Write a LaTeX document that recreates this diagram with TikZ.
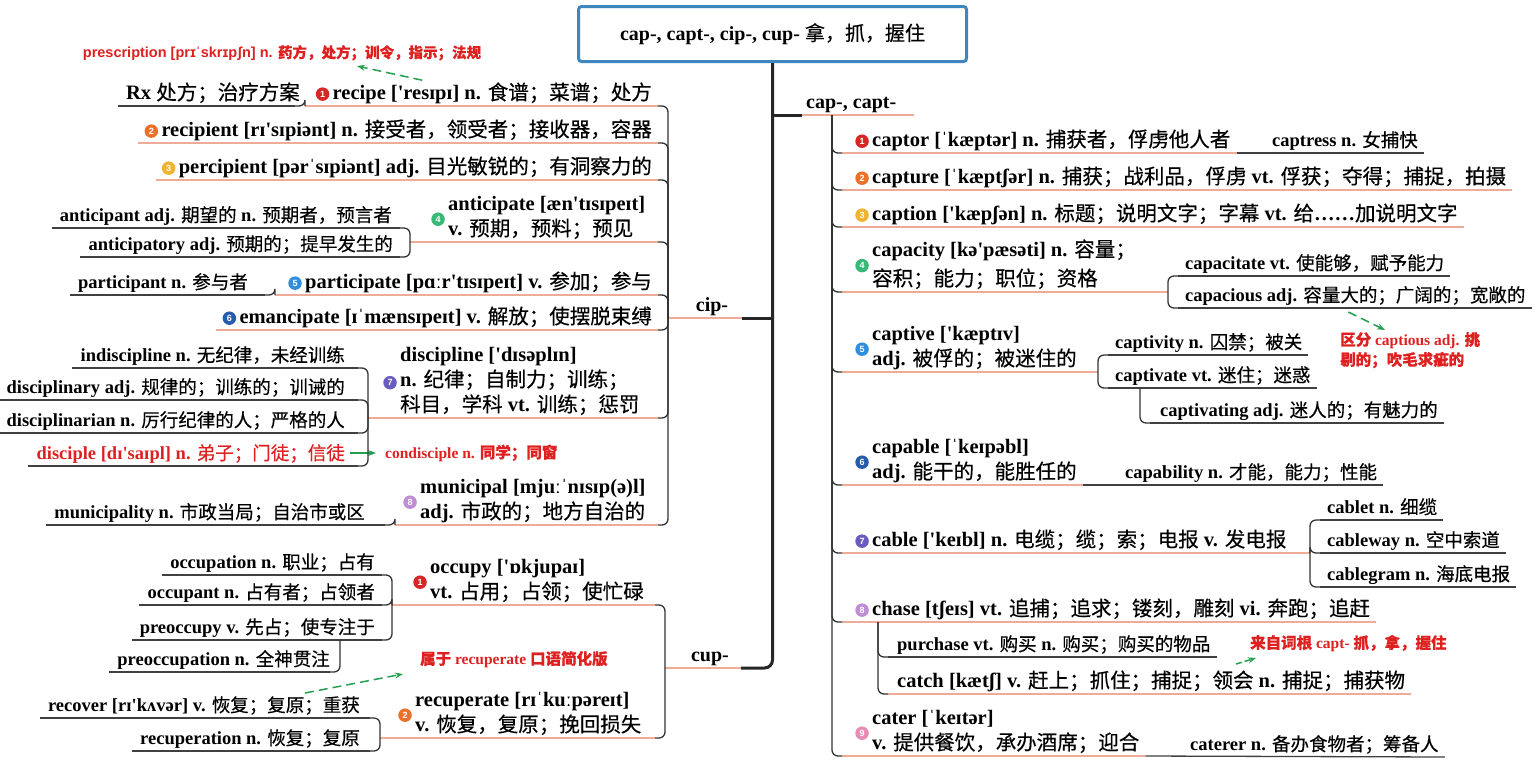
\documentclass[tikz,border=0pt]{standalone}
\usepackage{fontspec}
\setmainfont{Liberation Serif}
\setsansfont{Liberation Sans}
\newfontfamily\lat{Liberation Serif}
\newfontfamily\zh{Noto Sans CJK SC}[FakeBold=0.4]
\newcommand{\cn}[1]{{\zh\mdseries#1}}
\newcommand{\cnb}[1]{{\zh\bfseries#1}}
\usetikzlibrary{arrows.meta,positioning}
\definecolor{rootblue}{RGB}{62,134,190}
\definecolor{linepink}{RGB}{238,172,152}
\definecolor{notered}{RGB}{222,32,32}
\definecolor{hintgreen}{RGB}{36,160,80}
\definecolor{col1}{RGB}{214,38,38}
\definecolor{col2}{RGB}{236,112,42}
\definecolor{col3}{RGB}{240,178,48}
\definecolor{col4}{RGB}{58,184,120}
\definecolor{col5}{RGB}{48,142,222}
\definecolor{col6}{RGB}{38,92,172}
\definecolor{col7}{RGB}{104,92,190}
\definecolor{col8}{RGB}{192,140,212}
\definecolor{col9}{RGB}{232,140,180}
\tikzset{
  >={Stealth[length=8pt,width=6pt]},
  root/.style={draw=rootblue,line width=3pt,rounded corners=3pt,fill=white,
    minimum width=388pt,minimum height=55pt,font=\lat\bfseries\fontsize{20}{24}\selectfont},
  topic/.style={inner sep=0pt,align=left,font=\lat\bfseries\fontsize{20.5}{25}\selectfont,
    execute at end node={\rule[-6pt]{0pt}{6pt}}},
  leaf/.style={topic,font=\lat\bfseries\fontsize{18.5}{22}\selectfont},
  branch/.style={topic,font=\lat\bfseries\fontsize{20}{24}\selectfont},
  note/.style={inner sep=0pt,align=left,text=notered,font=\lat\bfseries\fontsize{15.5}{20}\selectfont},
  num/.style={circle,fill=#1,text=white,inner sep=0pt,minimum size=13.5pt,
    font=\sffamily\bfseries\fontsize{9}{9}\selectfont},
  trunk/.style={draw=black!85,line width=3pt,rounded corners=8pt},
  bar/.style={draw=black!80,line width=1.3pt,rounded corners=6pt},
  hi/.style={draw=linepink,line width=1.3pt},
  lo/.style={draw=black!75,line width=1.3pt},
  hint/.style={->,draw=hintgreen,line width=1.5pt,dash pattern=on 9pt off 5pt},
}
\begin{document}
\begin{tikzpicture}[x=1pt,y=-1pt]
  \useasboundingbox (0,0) rectangle (1536,764);

  % root and the three stems
  \node[root] (root) at (772.5,34) {cap-, capt-, cip-, cup- \cn{拿，抓，握住}};
  \node[branch,anchor=south west] (cap) at (806,115) {cap-, capt-};
  \node[branch,anchor=south] (cip) at (712,318) {cip-};
  \node[branch,anchor=south] (cup) at (710,668) {cup-};
  \coordinate (capj) at (832,115);
  \coordinate (cipj) at (668,318);
  \coordinate (cupj) at (665,668);
  \draw[trunk] (root.south) |- ([xshift=12pt]cup.south east);
  \draw[trunk] (root.south |- cip.south) -- ([xshift=14pt]cip.south east);
  \draw[trunk] (root.south |- cap.south) -- ([xshift=-4pt]cap.south west);
  \draw[hi] ([xshift=-4pt]cap.south west) -- ([xshift=18pt]cap.south east);
  \draw[hi] (cipj) -- ([xshift=14pt]cip.south east);
  \draw[hi] (cupj) -- ([xshift=12pt]cup.south east);

  % cap-, capt-
  \node[topic,anchor=south west] (captor) at (872,153) {captor [ˈkæptər] n. \cn{捕获者，俘虏他人者}};
  \node[topic,anchor=south west] (capture) at (872,190) {capture [ˈkæptʃər] n. \cn{捕获；战利品，俘虏} vt. \cn{俘获；夺得；捕捉，拍摄}};
  \node[topic,anchor=south west] (caption) at (872,227) {caption ['kæpʃən] n. \cn{标题；说明文字；字幕} vt. \cn{给}……\cn{加说明文字}};
  \node[topic,anchor=south west] (capacity) at (872,292) {capacity [kə'pæsəti] n. \cn{容量；}\\[4pt]\cn{容积；能力；职位；资格}};
  \node[topic,anchor=south west] (captive) at (872,372) {captive ['kæptɪv]\\adj. \cn{被俘的；被迷住的}};
  \node[topic,anchor=south west] (capable) at (872,485) {capable [ˈkeɪpəbl]\\adj. \cn{能干的，能胜任的}};
  \node[topic,anchor=south west] (cable) at (872,553) {cable ['keɪbl] n. \cn{电缆；缆；索；电报} v. \cn{发电报}};
  \node[topic,anchor=south west] (chase) at (872,622) {chase [tʃeɪs] vt. \cn{追捕；追求；镂刻，雕刻} vi. \cn{奔跑；追赶}};
  \node[topic,anchor=south west] (cater) at (872,756) {cater [ˈkeɪtər]\\v. \cn{提供餐饮，承办酒席；迎合}};

  \node[leaf,anchor=south west] (captress) at (1272,153) {captress n. \cn{女捕快}};
  \node[leaf,anchor=south west] (capacitate) at (1185,276) {capacitate vt. \cn{使能够，赋予能力}};
  \node[leaf,anchor=south west] (capacious) at (1185,308) {capacious adj. \cn{容量大的；广阔的；宽敞的}};
  \node[leaf,anchor=south west] (captivity) at (1115,355) {captivity n. \cn{囚禁；被关}};
  \node[leaf,anchor=south west] (captivate) at (1115,388) {captivate vt. \cn{迷住；迷惑}};
  \node[leaf,anchor=south west] (captivating) at (1160,423) {captivating adj. \cn{迷人的；有魅力的}};
  \node[leaf,anchor=south west] (capability) at (1125,485) {capability n. \cn{才能，能力；性能}};
  \node[leaf,anchor=south west] (cablet) at (1327,520) {cablet n. \cn{细缆}};
  \node[leaf,anchor=south west] (cableway) at (1327,553) {cableway n. \cn{空中索道}};
  \node[leaf,anchor=south west] (cablegram) at (1327,587) {cablegram n. \cn{海底电报}};
  \node[leaf,anchor=south west] (purchase) at (897,657) {purchase vt. \cn{购买} n. \cn{购买；购买的物品}};
  \node[topic,anchor=south west] (catch) at (897,694) {catch [kætʃ] v. \cn{赶上；抓住；捕捉；领会} n. \cn{捕捉；捕获物}};
  \node[leaf,anchor=south west] (caterer) at (1190,757) {caterer n. \cn{备办食物者；筹备人}};

  \coordinate (capaj) at (1168,292);
  \coordinate (tivej) at (1098,372);
  \coordinate (tivatej) at (1140,388);
  \coordinate (cablej) at (1310,553);
  \coordinate (chasej) at (878,622);

  \foreach \n [count=\i] in {captor,capture,caption,capacity,captive,capable,cable,chase,cater}{
    \node[num=col\i] (num-\n) [left=3pt of \n] {\i};
    \draw[hi] ([xshift=10pt]capj |- \n.south) -- ([xshift=6pt]\n.south east);
    \draw[bar] (capj) -- (capj |- \n.south) -- ([xshift=10pt]capj |- \n.south);
  }
  \draw[hi] (capacity.south east) -- (capaj);
  \draw[hi] (captive.south east) -- (tivej);
  \draw[hi] (cable.south east) -- (cablej);
  \draw[lo] ([xshift=6pt]captor.south east) -- ([xshift=6pt]captress.south east);
  \draw[lo] ([xshift=6pt]capable.south east) -- ([xshift=6pt]capability.south east);
  \draw[lo] ([xshift=6pt]cater.south east) -- ([xshift=6pt]caterer.south east);
  \foreach \j/\n in {capaj/capacitate,capaj/capacious,tivej/captivity,tivej/captivate,
      tivatej/captivating,cablej/cablet,cablej/cableway,cablej/cablegram,chasej/purchase}{
    \draw[lo] ([xshift=10pt]\j |- \n.south) -- ([xshift=6pt]\n.south east);
    \draw[bar] (\j) -- (\j |- \n.south) -- ([xshift=10pt]\j |- \n.south);
  }
  \draw[hi] ([xshift=10pt]chasej |- catch.south) -- ([xshift=6pt]catch.south east);
  \draw[bar] (chasej) -- (chasej |- catch.south) -- ([xshift=10pt]chasej |- catch.south);

  \node[note,anchor=north west] (captious) at (1340,332) {\cnb{区分} captious adj. \cnb{挑}\\\cnb{剔的；吹毛求疵的}};
  \node[note,anchor=south west] (capt) at (1250,652) {\cnb{来自词根} capt- \cnb{抓，拿，握住}};
  \draw[hint] ([xshift=-7pt,yshift=-4pt]capacious.south) -- ([xshift=45pt,yshift=2pt]captious.north west);
  \draw[hint,dash pattern=on 6pt off 3pt] ([shift={(-14pt,-12pt)}]capt.south west) -- ([shift={(6pt,-6pt)}]capt.south west);

  % cip-
  \node[topic,anchor=south east] (recipe) at (652,106) {recipe ['resɪpɪ] n. \cn{食谱；菜谱；处方}};
  \node[topic,anchor=south east] (recipient) at (652,143) {recipient [rɪ'sɪpiənt] n. \cn{接受者，领受者；接收器，容器}};
  \node[topic,anchor=south east] (percipient) at (652,180) {percipient [pərˈsɪpiənt] adj. \cn{目光敏锐的；有洞察力的}};
  \node[topic,anchor=south west] (anticipate) at (448,242) {anticipate [æn'tɪsɪpeɪt]\\v. \cn{预期，预料；预见}};
  \node[topic,anchor=south east] (participate) at (652,295) {participate [pɑːr'tɪsɪpeɪt] v. \cn{参加；参与}};
  \node[topic,anchor=south east] (emancipate) at (652,330) {emancipate [ɪˈmænsɪpeɪt] v. \cn{解放；使摆脱束缚}};
  \node[topic,anchor=south west] (discipline) at (400,418) {discipline ['dɪsəplɪn]\\n. \cn{纪律；自制力；训练；}\\\cn{科目，学科} vt. \cn{训练；惩罚}};
  \node[topic,anchor=south west] (municipal) at (420,525) {municipal [mjuːˈnɪsɪp(ə)l]\\adj. \cn{市政的；地方自治的}};

  \node[topic,anchor=south east] (rx) at (300,106) {Rx \cn{处方；治疗方案}};
  \node[leaf,anchor=south east] (anticipant) at (392,228) {anticipant adj. \cn{期望的} n. \cn{预期者，预言者}};
  \node[leaf,anchor=south east] (anticipatory) at (393,257) {anticipatory adj. \cn{预期的；提早发生的}};
  \node[leaf,anchor=south east] (participant) at (248,295) {participant n. \cn{参与者}};
  \node[leaf,anchor=south east] (indiscipline) at (345,368) {indiscipline n. \cn{无纪律，未经训练}};
  \node[leaf,anchor=south east] (disciplinary) at (345,400) {disciplinary adj. \cn{规律的；训练的；训诫的}};
  \node[leaf,anchor=south east] (disciplinarian) at (345,433) {disciplinarian n. \cn{厉行纪律的人；严格的人}};
  \node[leaf,anchor=south east,text=notered] (disciple) at (345,466) {disciple [dɪ'saɪpl] n. \cn{弟子；门徒；信徒}};
  \node[leaf,anchor=south east] (municipality) at (365,525) {municipality n. \cn{市政当局；自治市或区}};

  \coordinate (rxj) at (305,106);
  \coordinate (antj) at (410,242);
  \coordinate (partj) at (275,295);
  \coordinate (discj) at (368,418);
  \coordinate (munij) at (395,525);

  \foreach \n [count=\i] in {recipe,recipient,percipient,anticipate,participate,emancipate,discipline,municipal}{
    \node[num=col\i] (num-\n) [left=3pt of \n] {\i};
    \coordinate (\n-s) at ([xshift=-6pt]num-\n.west |- \n.south);
    \draw[bar] (cipj) -- (cipj |- \n.south) -- ([xshift=-10pt]cipj |- \n.south);
  }
  \foreach \n/\s in {recipe/rxj,recipient/recipient-s,percipient/percipient-s,anticipate/antj,
      participate/partj,emancipate/emancipate-s,discipline/discj,municipal/munij}
    \draw[hi] (\s) -- ([xshift=-10pt]cipj |- \n.south);

  \node[note,font=\sffamily\bfseries\fontsize{14.5}{18}\selectfont] (prescription) at (282,53) {prescription [prɪˈskrɪpʃn] n. \cnb{药方，处方；训令，指示；法规}};
  \node[note,anchor=west] (condisciple) at (385,453) {condisciple n. \cnb{同学；同窗}};
  \draw[hint] ([xshift=-70pt,yshift=2pt]recipe.north) -- ([xshift=75pt,yshift=-5pt]prescription.south);
  \draw[hint,solid] ([xshift=5pt]disciple.east |- condisciple.west) -- ([xshift=-9pt]condisciple.west);

  % cup-
  \node[topic,anchor=south west] (occupy) at (430,605) {occupy ['ɒkjupaɪ]\\vt. \cn{占用；占领；使忙碌}};
  \node[topic,anchor=south west] (recuperate) at (415,738) {recuperate [rɪˈkuːpəreɪt]\\v. \cn{恢复，复原；挽回损失}};

  \node[leaf,anchor=south east] (occupation) at (375,575) {occupation n. \cn{职业；占有}};
  \node[leaf,anchor=south east] (occupant) at (375,605) {occupant n. \cn{占有者；占领者}};
  \node[leaf,anchor=south east] (preoccupy) at (375,640) {preoccupy v. \cn{先占；使专注于}};
  \node[leaf,anchor=south east] (preoccupation) at (330,672) {preoccupation n. \cn{全神贯注}};
  \node[leaf,anchor=south east] (recover) at (360,718) {recover [rɪ'kʌvər] v. \cn{恢复；复原；重获}};
  \node[leaf,anchor=south east] (recuperation) at (360,751) {recuperation n. \cn{恢复；复原}};

  \coordinate (occj) at (392,605);
  \coordinate (preoj) at (340,640);
  \coordinate (recj) at (380,738);

  \foreach \n [count=\i] in {occupy,recuperate}{
    \node[num=col\i] (num-\n) [left=3pt of \n] {\i};
    \draw[bar] (cupj) -- (cupj |- \n.south) -- ([xshift=-10pt]cupj |- \n.south);
  }
  \draw[hi] (occj) -- ([xshift=-10pt]cupj |- occupy.south);
  \draw[hi] (recj) -- ([xshift=-10pt]cupj |- recuperate.south);

  \foreach \j/\n in {rxj/rx,antj/anticipant,antj/anticipatory,partj/participant,discj/indiscipline,
      discj/disciplinary,discj/disciplinarian,discj/disciple,munij/municipality,occj/occupation,
      occj/occupant,occj/preoccupy,preoj/preoccupation,recj/recover,recj/recuperation}{
    \draw[lo] ([xshift=-8pt]\n.south west) -- ([xshift=-10pt]\j |- \n.south);
    \draw[bar] (\j) -- (\j |- \n.south) -- ([xshift=-10pt]\j |- \n.south);
  }

  \node[note,anchor=south west] (colloquial) at (420,668) {\cnb{属于} recuperate \cnb{口语简化版}};
  \draw[hint] ([xshift=-55pt,yshift=3pt]recover.north east) -- ([xshift=-17pt,yshift=-6pt]colloquial.south west);
\end{tikzpicture}
\end{document}
